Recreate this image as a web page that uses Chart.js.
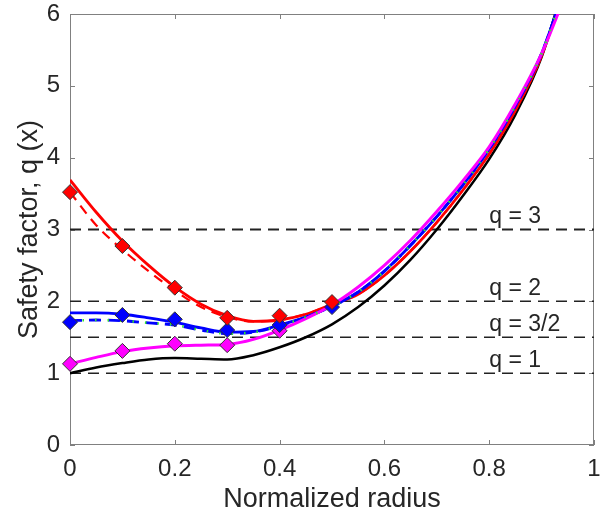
<!DOCTYPE html>
<html>
<head>
<meta charset="utf-8">
<script src="https://cdn.jsdelivr.net/npm/chart.js@4"></script>
<style>
  body { margin: 0; background: #fff; }
</style>
</head>
<body>
<canvas id="qChart" width="607" height="517"></canvas>
<script>
// perfiles q(x)
const radius = [0, 0.05, 0.1, 0.15, 0.2, 0.25, 0.3, 0.35, 0.4, 0.45, 0.5, 0.55, 0.6, 0.65, 0.7, 0.75, 0.8, 0.85, 0.9, 0.95];
const qBlack = [1.00, 1.08, 1.14, 1.19, 1.21, 1.20, 1.19, 1.25, 1.36, 1.50, 1.68, 1.92, 2.22, 2.58, 3.00, 3.47, 3.98, 4.60, 5.40, 6.60];
const qRed = [3.69, 3.24, 2.84, 2.50, 2.20, 1.96, 1.80, 1.72, 1.74, 1.82, 1.96, 2.10, 2.36, 2.70, 3.10, 3.55, 4.05, 4.66, 5.42, 6.50];
const qRedFit = [3.52, 3.06, 2.72, 2.42, 2.15, 1.92, 1.78, 1.72, 1.74, 1.82, 1.96, 2.10, 2.36, 2.70, 3.10, 3.55, 4.05, 4.66, 5.42, 6.50];
const qBlue = [1.84, 1.84, 1.82, 1.77, 1.71, 1.63, 1.57, 1.58, 1.67, 1.78, 1.93, 2.13, 2.42, 2.78, 3.18, 3.62, 4.12, 4.72, 5.45, 6.50];
const qBlueFit = [1.73, 1.74, 1.73, 1.70, 1.67, 1.60, 1.55, 1.57, 1.66, 1.78, 1.93, 2.13, 2.42, 2.78, 3.18, 3.62, 4.12, 4.72, 5.45, 6.50];
const qMagenta = [1.13, 1.22, 1.30, 1.35, 1.38, 1.39, 1.40, 1.47, 1.60, 1.76, 1.95, 2.20, 2.50, 2.85, 3.25, 3.68, 4.15, 4.75, 5.45, 6.35];

// puntos medidos (rombos)
const markerX = [0, 0.1, 0.2, 0.3, 0.4, 0.5];
const redMarkers = [3.52, 2.77, 2.19, 1.77, 1.80, 1.99];
const blueMarkers = [1.71, 1.81, 1.75, 1.60, 1.67, 1.92];
const magentaMarkers = [1.13, 1.31, 1.41, 1.39, 1.59];

// superficies racionales
const rationalQ = [3, 2, 1.5, 1];
const rationalLabels = ['q = 3', 'q = 2', 'q = 3/2', 'q = 1'];
const labelX = 0.8;

const xTicks = [0, 0.2, 0.4, 0.6, 0.8, 1];
const yTicks = [0, 1, 2, 3, 4, 5, 6];

const FONT = '"Liberation Sans", Arial, sans-serif';
const TEXT = '#262626';

const pts = (xs, ys) => ys.map((v, i) => ({ x: xs[i], y: v }));

function curve(ys, color, width, dash, order) {
    return {
        data: pts(radius, ys),
        borderColor: color,
        borderWidth: width,
        borderDash: dash || [],
        pointRadius: 0,
        cubicInterpolationMode: 'monotone',
        fill: false,
        order: order
    };
}

function markers(ys, color) {
    return {
        data: pts(markerX, ys),
        showLine: false,
        pointStyle: 'rectRot',
        pointRadius: 7.5,
        pointBackgroundColor: color,
        pointBorderColor: '#333333',
        pointBorderWidth: 1,
        clip: false,
        order: 0
    };
}

const datasets = [
    markers(redMarkers, '#ff0000'),
    markers(blueMarkers, '#0000ff'),
    markers(magentaMarkers, '#ff00ff'),
    curve(qBlueFit, '#2ee82e', 2.5, [1.5, 11], 1),
    curve(qMagenta, '#ff00ff', 3, null, 2),
    curve(qBlue, '#0000ff', 2.8, null, 3),
    curve(qBlueFit, '#0000ff', 2.8, [12, 7], 4),
    curve(qRed, '#ff0000', 2.8, null, 5),
    curve(qRedFit, '#ff0000', 2.2, [10, 7], 6),
    curve(qBlack, '#000000', 2.5, null, 7)
];

rationalQ.forEach((q) => {
    datasets.push({
        data: [{ x: 0, y: q }, { x: 1, y: q }],
        borderColor: '#222222',
        borderWidth: q === 3 ? 2 : 1.5,
        borderDash: [11, 7],
        pointRadius: 0,
        order: 8
    });
});

// caja del eje con marcas hacia dentro, y etiquetas q = ...
const framePlugin = {
    id: 'frame',
    beforeDatasetsDraw(chart) {
        const { ctx, chartArea: a, scales: { x, y } } = chart;
        ctx.save();
        ctx.strokeStyle = '#808080';
        ctx.lineWidth = 1;
        ctx.strokeRect(a.left + 0.5, a.top + 0.5, a.right - a.left - 1, a.bottom - a.top - 1);
        ctx.beginPath();
        xTicks.forEach((v) => {
            const px = Math.round(x.getPixelForValue(v)) + 0.5;
            ctx.moveTo(px, a.bottom); ctx.lineTo(px, a.bottom - 5);
            ctx.moveTo(px, a.top); ctx.lineTo(px, a.top + 5);
        });
        yTicks.forEach((v) => {
            const py = Math.round(y.getPixelForValue(v)) + 0.5;
            ctx.moveTo(a.left, py); ctx.lineTo(a.left + 5, py);
            ctx.moveTo(a.right, py); ctx.lineTo(a.right - 5, py);
        });
        ctx.stroke();
        ctx.restore();
    },
    afterDatasetsDraw(chart) {
        const { ctx, scales: { x, y } } = chart;
        ctx.save();
        ctx.fillStyle = TEXT;
        ctx.font = '23px ' + FONT;
        ctx.textBaseline = 'middle';
        ctx.textAlign = 'left';
        rationalQ.forEach((q, i) => {
            ctx.fillText(rationalLabels[i], x.getPixelForValue(labelX), y.getPixelForValue(q) - 13);
        });
        ctx.restore();
    }
};

const noPad = (s) => { s.paddingTop = 0; s.paddingBottom = 0; s.paddingLeft = 0; s.paddingRight = 0; };

const ctx = document.getElementById('qChart').getContext('2d');
new Chart(ctx, {
    type: 'line',
    data: { datasets },
    plugins: [framePlugin],
    options: {
        responsive: false,
        animation: false,
        layout: { padding: { top: 14, right: 13, left: 0, bottom: 0 } },
        plugins: {
            legend: { display: false },
            tooltip: { enabled: false }
        },
        scales: {
            x: {
                type: 'linear',
                min: 0,
                max: 1,
                afterFit: (s) => { s.height = 72; noPad(s); },
                afterBuildTicks: (s) => { s.ticks = xTicks.map(v => ({ value: v })); },
                ticks: {
                    padding: 10,
                    color: TEXT,
                    maxRotation: 0,
                    autoSkip: false,
                    font: { family: FONT, size: 24 },
                    callback: (v) => String(Math.round(v * 10) / 10)
                },
                grid: { drawOnChartArea: false, drawTicks: false },
                border: { display: false },
                title: {
                    display: true,
                    text: 'Normalized radius',
                    color: TEXT,
                    font: { family: FONT, size: 27 },
                    padding: { top: 0, bottom: 1 }
                }
            },
            y: {
                min: 0,
                max: 6,
                afterFit: (s) => { s.width = 70; noPad(s); },
                afterBuildTicks: (s) => { s.ticks = yTicks.map(v => ({ value: v })); },
                ticks: {
                    padding: 10,
                    color: TEXT,
                    font: { family: FONT, size: 24 }
                },
                grid: { drawOnChartArea: false, drawTicks: false },
                border: { display: false },
                title: {
                    display: true,
                    text: 'Safety factor, q (x)',
                    color: TEXT,
                    font: { family: FONT, size: 27 },
                    padding: { top: 13, bottom: 0 }
                }
            }
        }
    }
});
</script>
</body>
</html>
